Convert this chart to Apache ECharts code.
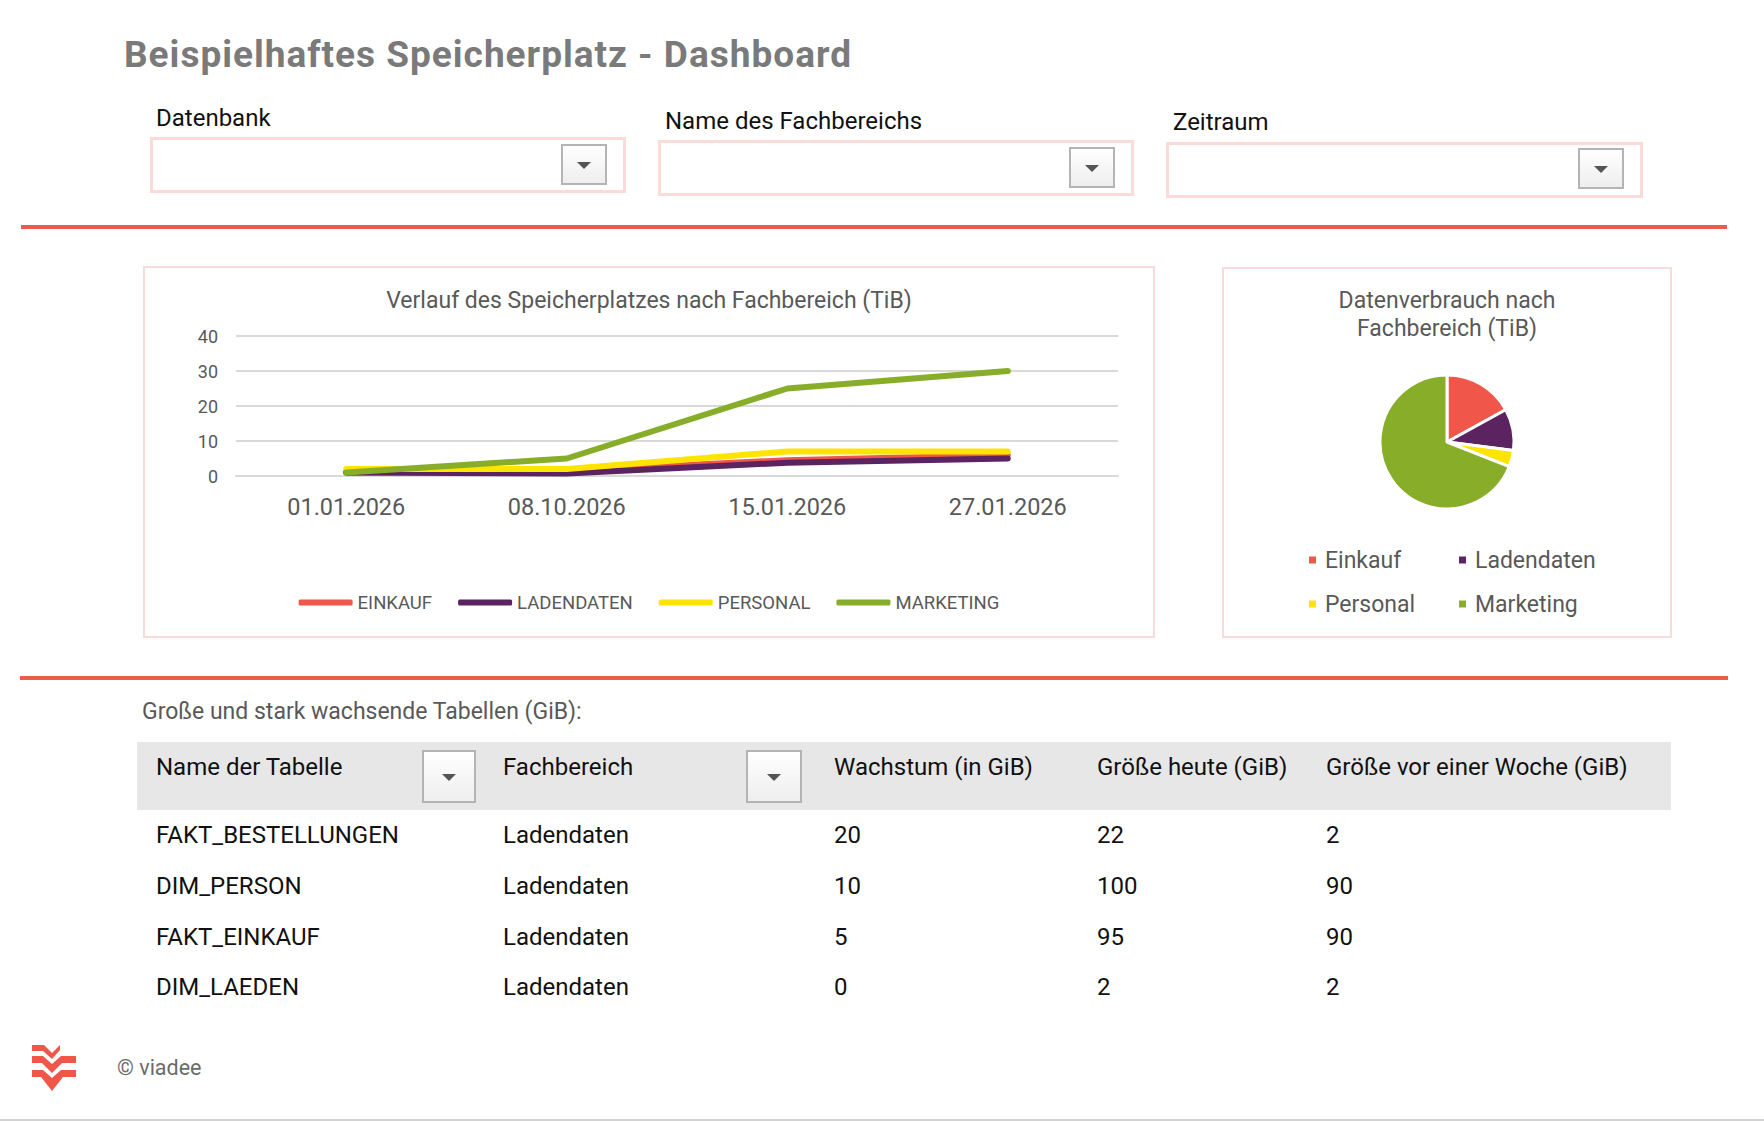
<!DOCTYPE html>
<html>
<head>
<meta charset="utf-8">
<title>Beispielhaftes Speicherplatz - Dashboard</title>
<script src="https://cdn.jsdelivr.net/npm/echarts@6/dist/echarts.min.js"></script>
<style>
  body { margin: 0; width: 1764px; height: 1121px; position: relative; overflow: hidden; background: #fff; font-family: Roboto, "Noto Sans", sans-serif; color: #111; }
  .abs { position: absolute; white-space: nowrap; }
  .rule { position: absolute; background: #e85e4a; }
  .drop { position: absolute; box-sizing: border-box; border: 3px solid #fadbd7; background: #fff; }
  .btn { position: absolute; box-sizing: border-box; border: 2px solid #b4b4b4; background: linear-gradient(#ffffff, #eeeeee); }
  .btn::after { content: ""; position: absolute; left: 50%; top: 50%; margin-left: -7px; margin-top: -3px; border-left: 7px solid transparent; border-right: 7px solid transparent; border-top: 7px solid #555; }
  .panel { position: absolute; box-sizing: border-box; border: 2px solid #f8dcdc; }
  .lbl { font-size: 24px; line-height: 24px; color: #111; }
  .cell { font-size: 24px; line-height: 24px; color: #111; }
</style>
</head>
<body>
<div class="abs" style="left:124px;top:36px;font-size:37px;line-height:37px;font-weight:bold;color:#7a7a7a;letter-spacing:1px">Beispielhaftes Speicherplatz - Dashboard</div>

<div class="abs lbl" style="left:156px;top:106px">Datenbank</div>
<div class="abs lbl" style="left:665px;top:109px">Name des Fachbereichs</div>
<div class="abs lbl" style="left:1173px;top:110px">Zeitraum</div>

<div class="drop" style="left:150px;top:137px;width:476px;height:56px"></div>
<div class="btn" style="left:561px;top:144px;width:46px;height:41px"></div>
<div class="drop" style="left:658px;top:140px;width:476px;height:56px"></div>
<div class="btn" style="left:1069px;top:147px;width:46px;height:41px"></div>
<div class="drop" style="left:1166px;top:142px;width:477px;height:56px"></div>
<div class="btn" style="left:1578px;top:148px;width:46px;height:41px"></div>

<div class="rule" style="left:21px;top:225px;width:1706px;height:4px"></div>

<div class="panel" style="left:143px;top:266px;width:1012px;height:372px"></div>
<div id="lineChart" class="abs" style="left:143px;top:266px;width:1012px;height:372px"></div>

<div class="panel" style="left:1222px;top:267px;width:450px;height:371px"></div>
<div id="pieChart" class="abs" style="left:1222px;top:267px;width:450px;height:371px"></div>

<div class="rule" style="left:20px;top:676px;width:1708px;height:4px"></div>

<div class="abs" style="left:142px;top:700px;font-size:23px;line-height:23px;color:#595959">Große und stark wachsende Tabellen (GiB):</div>

<div class="abs" style="left:137px;top:742px;width:1534px;height:68px;background:#e7e7e7"></div>
<div class="btn" style="left:422px;top:750px;width:54px;height:53px"></div>
<div class="btn" style="left:746px;top:750px;width:56px;height:53px"></div>
<div id="table"></div>

<svg class="abs" style="left:0;top:0" width="100" height="1121" viewBox="0 0 100 1121">
  <g fill="#f0574a">
    <polygon points="32,1045 44,1045 52,1053 60,1045 60,1045 60,1050 52,1059 43,1051 32,1051"/>
    <polygon points="32,1056 43,1056 52,1064 61,1056 76,1056 76,1063 62,1063 52,1073 42,1063 32,1063"/>
    <polygon points="32,1070 43,1070 52,1078 61,1070 76,1070 76,1077 63,1077 52,1091 41,1077 32,1077"/>
  </g>
</svg>
<div class="abs" style="left:117px;top:1057px;font-size:21.5px;line-height:21.5px;color:#6b6b6b">© viadee</div>
<div class="abs" style="left:0;top:1119px;width:1764px;height:2px;background:#d2d2d2"></div>

<script>
// Linienchart: Verlauf des Speicherplatzes (TiB)
const dates = ['01.01.2026', '08.10.2026', '15.01.2026', '27.01.2026']
const einkauf = [1, 1.5, 4.5, 6]
const ladendaten = [1, 0.7, 3.8, 5]
const personal = [2, 2, 7, 7]
const marketing = [1, 5, 25, 30]

// Kreisdiagramm: Datenverbrauch nach Fachbereich
const pieNames = ['Einkauf', 'Ladendaten', 'Personal', 'Marketing']
const pieValues = [17, 10, 4, 69]

// Tabelle
const tableHeaders = ['Name der Tabelle', 'Fachbereich', 'Wachstum (in GiB)', 'Größe heute (GiB)', 'Größe vor einer Woche (GiB)']
const tableNames = ['FAKT_BESTELLUNGEN', 'DIM_PERSON', 'FAKT_EINKAUF', 'DIM_LAEDEN']
const tableAreas = ['Ladendaten', 'Ladendaten', 'Ladendaten', 'Ladendaten']
const growth = [20, 10, 5, 0]
const sizeToday = [22, 100, 95, 2]
const sizeLastWeek = [2, 90, 90, 2]

const colors = ['#f0574a', '#5c2361', '#ffe400', '#87ad29']
const grey = '#595959'

const lineChart = echarts.init(document.getElementById('lineChart'), null, { renderer: 'svg' })
lineChart.setOption({
  animation: false,
  color: colors,
  title: {
    text: 'Verlauf des Speicherplatzes nach Fachbereich (TiB)',
    left: 'center',
    top: 18,
    textStyle: { fontFamily: 'Roboto', fontSize: 23, fontWeight: 'normal', color: grey },
  },
  grid: { left: 93, right: 37, top: 70, bottom: 162 },
  legend: {
    left: 'center',
    top: 322,
    icon: 'roundRect',
    itemWidth: 54,
    itemHeight: 6,
    itemGap: 26,
    textStyle: { fontFamily: 'Roboto', fontSize: 18.5, color: grey },
    data: ['EINKAUF', 'LADENDATEN', 'PERSONAL', 'MARKETING'],
  },
  xAxis: {
    type: 'category',
    data: dates,
    axisLine: { lineStyle: { color: '#d9d9d9', width: 2 } },
    axisTick: { show: false },
    axisLabel: { fontFamily: 'Roboto', fontSize: 23.5, color: grey, margin: 19 },
  },
  yAxis: {
    type: 'value',
    min: 0,
    max: 40,
    interval: 10,
    axisLabel: { fontFamily: 'Roboto', fontSize: 18, color: grey, margin: 18 },
    splitLine: { lineStyle: { color: '#d9d9d9', width: 2 } },
  },
  series: [
    { name: 'EINKAUF', data: einkauf },
    { name: 'LADENDATEN', data: ladendaten },
    { name: 'PERSONAL', data: personal },
    { name: 'MARKETING', data: marketing },
  ].map(s => ({
    ...s,
    type: 'line',
    symbol: 'none',
    lineStyle: { width: 6, cap: 'round', join: 'round' },
  })),
})

const pieChart = echarts.init(document.getElementById('pieChart'), null, { renderer: 'svg' })
const legendStyle = {
  orient: 'vertical',
  top: 275,
  icon: 'rect',
  itemWidth: 9,
  itemHeight: 9,
  itemGap: 18,
  textStyle: { fontFamily: 'Roboto', fontSize: 23, lineHeight: 26, color: grey, padding: [0, 0, 0, 3] },
}
pieChart.setOption({
  animation: false,
  color: colors,
  title: {
    text: 'Datenverbrauch nach\nFachbereich (TiB)',
    left: 'center',
    top: 14,
    textStyle: { fontFamily: 'Roboto', fontSize: 23, lineHeight: 28, fontWeight: 'normal', color: grey },
  },
  legend: [
    { ...legendStyle, left: 80, data: ['Einkauf', 'Personal'] },
    { ...legendStyle, left: 230, data: ['Ladendaten', 'Marketing'] },
  ],
  series: [{
    type: 'pie',
    center: [225, 175],
    radius: 67,
    startAngle: 90,
    clockwise: true,
    label: { show: false },
    itemStyle: { borderColor: '#fff', borderWidth: 3 },
    data: pieNames.map((n, i) => ({ name: n, value: pieValues[i] })),
  }],
})

// Tabelle aufbauen
const colX = [156, 503, 834, 1097, 1326]
const rowY = [835, 886, 937, 987]
const table = document.getElementById('table')
function cell (text, x, cy) {
  const d = document.createElement('div')
  d.className = 'abs cell'
  d.style.left = x + 'px'
  d.style.top = (cy - 12) + 'px'
  d.textContent = text
  table.appendChild(d)
}
tableHeaders.forEach((h, i) => cell(h, colX[i], 767))
tableNames.forEach((n, r) => {
  const row = [n, tableAreas[r], growth[r], sizeToday[r], sizeLastWeek[r]]
  row.forEach((v, i) => cell(String(v), colX[i], rowY[r]))
})
</script>
</body>
</html>
